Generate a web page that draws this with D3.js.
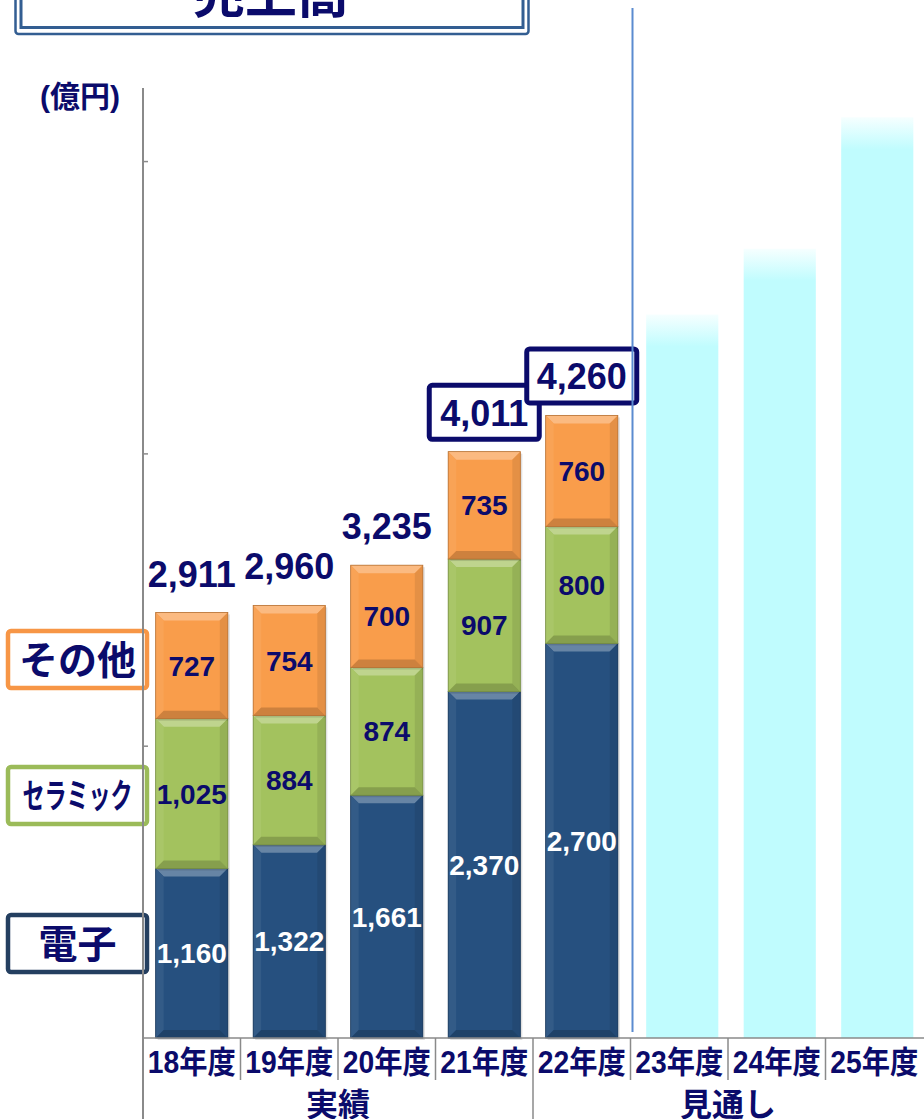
<!DOCTYPE html>
<html>
<head>
<meta charset="utf-8">
<script src="https://cdn.jsdelivr.net/npm/d3@7"></script>
<style>
	body { margin: 0; background: #fff; }
	text { font-family: 'Liberation Sans', 'Noto Sans CJK JP', sans-serif; font-weight: bold; }
</style>
</head>
<body>
<div id="viz"></div>
<script>

//data (億円)
const years = ['18年度', '19年度', '20年度', '21年度', '22年度', '23年度', '24年度', '25年度']
const actualYears = ['18年度', '19年度', '20年度', '21年度', '22年度']
const denshi = [1160, 1322, 1661, 2370, 2700]
const ceramic = [1025, 884, 874, 907, 800]
const other = [727, 754, 700, 735, 760]
const totals = [2911, 2960, 3235, 4011, 4260]
const boxedYears = ['21年度', '22年度']
//outlook bars have no printed value, heights estimated
const outlookYears = ['23年度', '24年度', '25年度']
const outlook = [4950, 5400, 6300]
const yTicks = [2000, 4000, 6000]
const groupNames = ['実績', '見通し']
const groupFirst = ['18年度', '22年度']
const groupLast = ['21年度', '25年度']
const legendNames = ['その他', 'セラミック', '電子']

const colors = { denshi: '#26507f', ceramic: '#a3c25e', other: '#f99d4b' }
const navy = '#0b0b6b'

let svg = d3.select('#viz')
			.append('svg')
			.attr('width', 924)
			.attr('height', 1119)

let x = d3.scaleBand()
			.domain(years)
			.range([143, 923])
			.paddingInner(0.26)
			.paddingOuter(0.13)

let y = d3.scaleLinear()
			.domain([0, 6500])
			.range([1038, 88])

//title box, mostly cut off at the top
svg.append('rect')
	.attr('x', 15.5).attr('y', -70)
	.attr('width', 513).attr('height', 104)
	.attr('rx', 3)
	.attr('fill', '#fff')
	.attr('stroke', '#335e92')
	.attr('stroke-width', 2.5)
svg.append('rect')
	.attr('x', 21).attr('y', -70)
	.attr('width', 502).attr('height', 97.5)
	.attr('fill', 'none')
	.attr('stroke', '#335e92')
	.attr('stroke-width', 3)
svg.append('text')
	.attr('x', 271).attr('y', 13)
	.attr('text-anchor', 'middle')
	.attr('font-size', 52)
	.attr('fill', navy)
	.text('売上高')

//unit
svg.append('text')
	.attr('x', 80).attr('y', 107)
	.attr('text-anchor', 'middle')
	.attr('font-size', 30)
	.attr('fill', navy)
	.text('(億円)')

//outlook bars with faded top
let defs = svg.append('defs')
outlookYears.forEach((yr, i) => {
	let h = y(0) - y(outlook[i])
	let grad = defs.append('linearGradient')
				.attr('id', 'fade' + i)
				.attr('x1', 0).attr('y1', 0).attr('x2', 0).attr('y2', 1)
	grad.append('stop').attr('offset', 0).attr('stop-color', '#f6ffff')
	grad.append('stop').attr('offset', 32 / h).attr('stop-color', '#c0fcfe')
	grad.append('stop').attr('offset', 1).attr('stop-color', '#c0fcfe')
})

svg.selectAll('.outlook')
	.data(outlookYears)
	.enter()
	.append('rect')
	.attr('class', 'outlook')
	.attr('x', d => x(d) + 3)
	.attr('y', (d, i) => y(outlook[i]))
	.attr('width', x.bandwidth())
	.attr('height', (d, i) => y(0) - y(outlook[i]))
	.attr('fill', (d, i) => `url(#fade${i})`)

//legend boxes on the left
const legendStroke = ['#f79646', '#9bbb59', '#243f60']
const legendTop = [631, 767, 915]
const legendSize = [39, 34, 39]
legendNames.forEach((name, i) => {
	svg.append('rect')
		.attr('x', 8).attr('y', legendTop[i])
		.attr('width', 139).attr('height', 57)
		.attr('rx', 3)
		.attr('fill', '#fff')
		.attr('stroke', legendStroke[i])
		.attr('stroke-width', 4.5)
	let t = svg.append('text')
		.attr('x', 77.5).attr('y', legendTop[i] + 28.5)
		.attr('dy', '0.36em')
		.attr('text-anchor', 'middle')
		.attr('font-size', legendSize[i])
		.attr('font-family', 'Noto Sans CJK JP')
		.attr('font-weight', 900)
		.attr('fill', navy)
		.text(name)
	if (name === 'セラミック') t.attr('textLength', 110).attr('lengthAdjust', 'spacingAndGlyphs')
})

//stacked actual bars
let table = actualYears.map((yr, i) => ({ year: yr, denshi: denshi[i], ceramic: ceramic[i], other: other[i] }))
let stack = d3.stack().keys(['denshi', 'ceramic', 'other'])(table)

function bevelBar(g, bx, by, w, h, color) {
	let b = Math.min(8, h / 4)
	let c = d3.color(color)
	g.append('rect')
		.attr('x', bx + 2).attr('y', by + 2)
		.attr('width', w).attr('height', h)
		.attr('fill', 'rgba(0,0,0,0.12)')
	g.append('rect')
		.attr('x', bx).attr('y', by)
		.attr('width', w).attr('height', h)
		.attr('fill', color)
	//top, left, right and bottom faces
	g.append('polygon')
		.attr('points', [[bx, by], [bx + w, by], [bx + w - b, by + b], [bx + b, by + b]].join(' '))
		.attr('fill', d3.interpolateRgb(color, '#fff')(0.3))
	g.append('polygon')
		.attr('points', [[bx, by], [bx + b, by + b], [bx + b, by + h - b], [bx, by + h]].join(' '))
		.attr('fill', d3.interpolateRgb(color, '#fff')(0.06))
	g.append('polygon')
		.attr('points', [[bx + w, by], [bx + w - b, by + b], [bx + w - b, by + h - b], [bx + w, by + h]].join(' '))
		.attr('fill', c.darker(0.25))
	g.append('polygon')
		.attr('points', [[bx, by + h], [bx + b, by + h - b], [bx + w - b, by + h - b], [bx + w, by + h]].join(' '))
		.attr('fill', c.darker(0.55))
	g.append('rect')
		.attr('x', bx).attr('y', by)
		.attr('width', w).attr('height', h)
		.attr('fill', 'none')
		.attr('stroke', c.darker(0.9))
		.attr('stroke-width', 0.8)
}

let bars = svg.append('g').attr('id', 'bars')
stack.forEach(layer => {
	layer.forEach(seg => {
		bevelBar(bars, x(seg.data.year), y(seg[1]), x.bandwidth(), y(seg[0]) - y(seg[1]), colors[layer.key])
	})
})

//segment values
stack.forEach(layer => {
	bars.selectAll('.lbl-' + layer.key)
		.data(layer)
		.enter()
		.append('text')
		.attr('class', 'lbl-' + layer.key)
		.attr('x', d => x(d.data.year) + x.bandwidth() / 2)
		.attr('y', d => (y(d[0]) + y(d[1])) / 2)
		.attr('dy', '0.36em')
		.attr('text-anchor', 'middle')
		.attr('font-size', 28)
		.attr('fill', layer.key === 'denshi' ? '#fff' : navy)
		.text(d => d3.format(',')(d.data[layer.key]))
})

//totals above bars, last two boxed
actualYears.forEach((yr, i) => {
	let cx = x(yr) + x.bandwidth() / 2
	let base = y(totals[i]) - 26
	if (boxedYears.includes(yr)) {
		svg.append('rect')
			.attr('x', cx - 55).attr('y', base - 40.5)
			.attr('width', 110).attr('height', 54)
			.attr('rx', 3)
			.attr('fill', '#fff')
			.attr('stroke', navy)
			.attr('stroke-width', 5)
	}
	svg.append('text')
		.attr('x', cx).attr('y', base)
		.attr('text-anchor', 'middle')
		.attr('font-size', 36)
		.attr('fill', navy)
		.text(d3.format(',')(totals[i]))
})

//y axis: line, small inner ticks, no labels
svg.append('line')
	.attr('x1', 143).attr('x2', 143)
	.attr('y1', 88).attr('y2', 1119)
	.attr('stroke', '#8a8a8a')
	.attr('stroke-width', 2)

let yAxis = svg.append('g')
				.attr('transform', 'translate(143,0)')
				.call(d3.axisRight(y).tickValues(yTicks).tickSize(5).tickFormat(''))
yAxis.select('.domain').remove()
yAxis.selectAll('line').attr('stroke', '#8a8a8a').attr('stroke-width', 1.5)

//baseline
svg.append('line')
	.attr('x1', 143).attr('x2', 924)
	.attr('y1', y(0)).attr('y2', y(0))
	.attr('stroke', '#8a8a8a')
	.attr('stroke-width', 1.5)

//divider between results and outlook
svg.append('line')
	.attr('x1', 632.5).attr('x2', 632.5)
	.attr('y1', 8).attr('y2', 1032)
	.attr('stroke', '#5b8bd0')
	.attr('stroke-width', 2)

//category labels and separators
years.forEach((yr, i) => {
	let left = x(yr) - x.step() * x.paddingOuter()
	if (i > 0) {
		let long = groupFirst.includes(yr)
		svg.append('line')
			.attr('x1', left).attr('x2', left)
			.attr('y1', y(0)).attr('y2', long ? 1119 : 1080)
			.attr('stroke', '#8a8a8a')
			.attr('stroke-width', 1.5)
	}
	svg.append('text')
		.attr('x', x(yr) + x.bandwidth() / 2)
		.attr('y', 1073)
		.attr('text-anchor', 'middle')
		.attr('font-size', 31)
		.attr('textLength', 88)
		.attr('lengthAdjust', 'spacingAndGlyphs')
		.attr('fill', navy)
		.text(yr)
})

//group labels
groupNames.forEach((g, i) => {
	let a = x(groupFirst[i]) - x.step() * x.paddingOuter()
	let b = x(groupLast[i]) + x.bandwidth() + x.step() * x.paddingOuter()
	svg.append('text')
		.attr('x', (a + b) / 2)
		.attr('y', 1116)
		.attr('text-anchor', 'middle')
		.attr('font-size', 32)
		.attr('fill', navy)
		.text(g)
})

</script>
</body>
</html>
